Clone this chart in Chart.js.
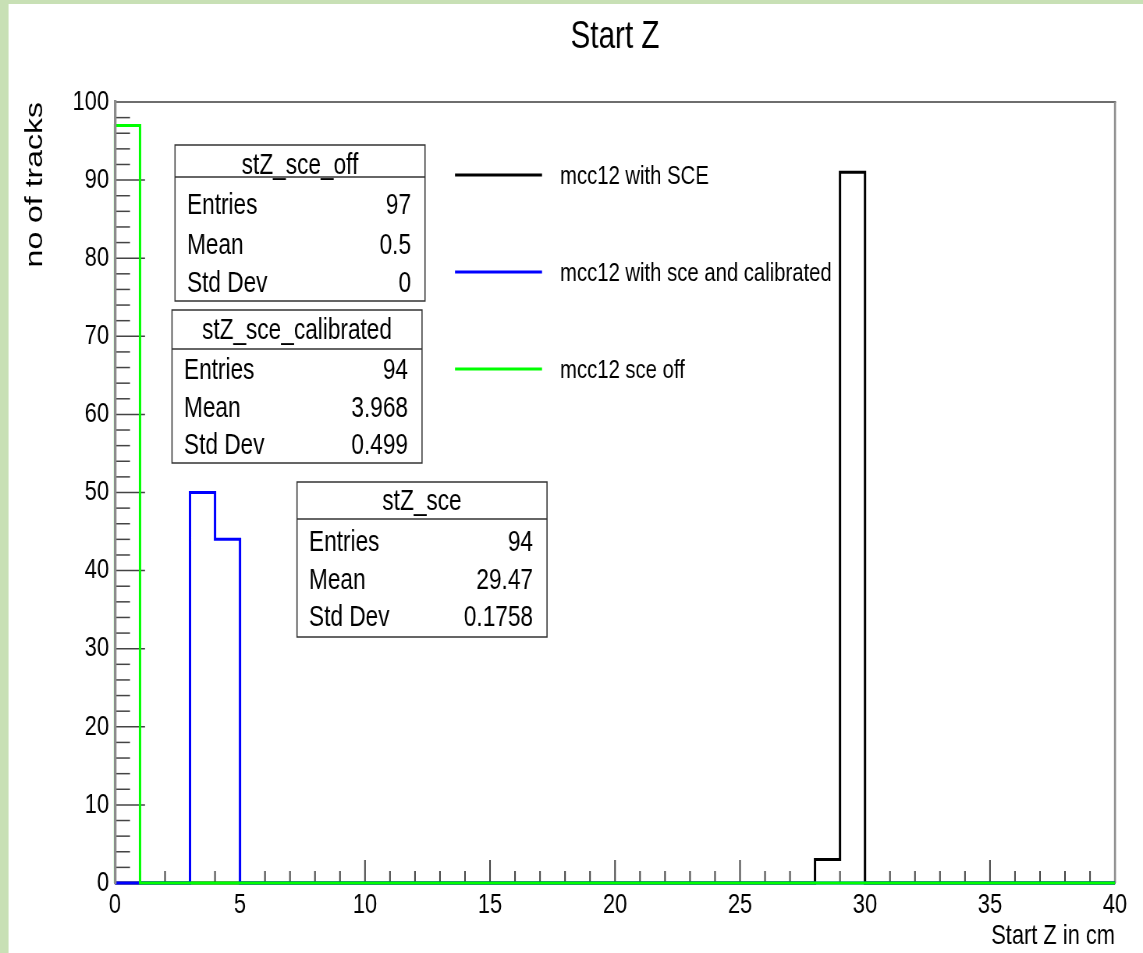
<!DOCTYPE html>
<html>
<head>
<meta charset="utf-8">
<script src="https://cdn.jsdelivr.net/npm/chart.js@4/dist/chart.umd.min.js"></script>
<style>
html, body { margin: 0; padding: 0; background: #ffffff; overflow: hidden; }
canvas { display: block; }
</style>
</head>
<body>
<canvas id="c" width="1465" height="953" style="width:1143px;height:953px"></canvas>
<script>
// ---------------- data ----------------
const chartTitle = 'Start Z';
const xAxisTitle = 'Start Z in cm';
const yAxisTitle = 'no of tracks';

const binLowEdges = [0,1,2,3,4,5,6,7,8,9,10,11,12,13,14,15,16,17,18,19,20,21,22,23,24,25,26,27,28,29,30,31,32,33,34,35,36,37,38,39];
const xRange = [0, 40];
const yRange = [0, 100];
const xMajorTicks = [0, 5, 10, 15, 20, 25, 30, 35, 40];
const yMajorTicks = [0, 10, 20, 30, 40, 50, 60, 70, 80, 90, 100];

const seriesNames = ['stZ_sce', 'stZ_sce_calibrated', 'stZ_sce_off'];
const legendLabels = ['mcc12 with SCE', 'mcc12 with sce and calibrated', 'mcc12 sce off'];

const countsSce           = [0,0,0,0,0,0,0,0,0,0, 0,0,0,0,0,0,0,0,0,0, 0,0,0,0,0,0,0,0,3,91, 0,0,0,0,0,0,0,0,0,0];
const countsSceCalibrated = [0,0,0,50,44,0,0,0,0,0, 0,0,0,0,0,0,0,0,0,0, 0,0,0,0,0,0,0,0,0,0, 0,0,0,0,0,0,0,0,0,0];
const countsSceOff        = [97,0,0,0,0,0,0,0,0,0, 0,0,0,0,0,0,0,0,0,0, 0,0,0,0,0,0,0,0,0,0, 0,0,0,0,0,0,0,0,0,0];

const statsLabels = ['Entries', 'Mean', 'Std Dev'];
const statsSce           = ['94', '29.47', '0.1758'];
const statsSceCalibrated = ['94', '3.968', '0.499'];
const statsSceOff        = ['97', '0.5', '0'];

// ---------------- helpers ----------------
const SX = 1143 / 1465;           // horizontal squeeze of the picture
const px = v => v / SX;           // screen x-distance -> canvas x-distance
const FONT = '"Liberation Sans", Helvetica, Arial, sans-serif';

function histPoints(counts) {
  const pts = [{ x: binLowEdges[0], y: 0 }];
  binLowEdges.forEach((e, i) => pts.push({ x: e, y: counts[i] }));
  pts.push({ x: xRange[1], y: 0 });
  return pts;
}

const rootPlugin = {
  id: 'rootStyle',
  beforeDraw(chart) {
    const ctx = chart.ctx;
    ctx.save();
    ctx.fillStyle = '#c8e0b5';
    ctx.fillRect(0, 0, chart.width, chart.height);
    ctx.fillStyle = '#ffffff';
    ctx.fillRect(px(8.5), 4, chart.width, chart.height);
    ctx.restore();
  },
  beforeDatasetsDraw(chart) {
    const { ctx, chartArea: a, scales: { x, y } } = chart;
    ctx.save();
    ctx.strokeStyle = '#444444';
    ctx.lineWidth = 2;
    x.ticks.forEach(t => {
      if (t.value <= x.min || t.value >= x.max) return;
      const p = x.getPixelForValue(t.value);
      const len = xMajorTicks.includes(t.value) ? 23 : 12;
      ctx.beginPath(); ctx.moveTo(p, a.bottom); ctx.lineTo(p, a.bottom - len); ctx.stroke();
    });
    ctx.lineWidth = 1.5;
    y.ticks.forEach(t => {
      if (t.value <= y.min || t.value >= y.max) return;
      const p = y.getPixelForValue(t.value);
      const len = yMajorTicks.includes(t.value) ? px(30) : px(15);
      ctx.beginPath(); ctx.moveTo(a.left, p); ctx.lineTo(a.left + len, p); ctx.stroke();
    });
    // frame top / right
    ctx.strokeStyle = '#6e6e6e';
    ctx.lineWidth = 2;
    ctx.beginPath(); ctx.moveTo(a.left, a.top); ctx.lineTo(a.right + px(1), a.top); ctx.stroke();
    ctx.strokeStyle = '#8c8c8c';
    ctx.lineWidth = px(2);
    ctx.beginPath(); ctx.moveTo(a.right, a.top); ctx.lineTo(a.right, a.bottom); ctx.stroke();
    ctx.restore();
  },
  afterDatasetsDraw(chart) {
    const ctx = chart.ctx;
    ctx.save();
    // legend (ROOT TLegend style, no border)
    const legendY = [175, 272, 369];
    chart.data.datasets.forEach((ds, i) => {
      ctx.strokeStyle = ds.borderColor;
      ctx.lineWidth = 3;
      ctx.beginPath(); ctx.moveTo(px(455), legendY[i]); ctx.lineTo(px(542), legendY[i]); ctx.stroke();
      ctx.fillStyle = '#000';
      ctx.font = '26px ' + FONT;
      ctx.textAlign = 'left';
      ctx.textBaseline = 'middle';
      ctx.fillText(ds.label, px(560), legendY[i] + 2);
    });
    // stats boxes
    const boxes = [
      { name: seriesNames[2], values: statsSceOff, x0: 175, x1: 425, y0: 145, ys: 177, y1: 301, ty: 166, rows: [206, 246, 284] },
      { name: seriesNames[1], values: statsSceCalibrated, x0: 172, x1: 422, y0: 310, ys: 349, y1: 463, ty: 331, rows: [371, 409, 446] },
      { name: seriesNames[0], values: statsSce, x0: 297, x1: 547, y0: 482, ys: 519, y1: 637, ty: 502, rows: [543, 581, 618] }
    ];
    boxes.forEach(b => {
      const L = px(b.x0), R = px(b.x1);
      ctx.fillStyle = '#ffffff';
      ctx.fillRect(L, b.y0, R - L, b.y1 - b.y0);
      ctx.strokeStyle = '#333333';
      ctx.lineWidth = 1.5;
      ctx.strokeRect(L, b.y0, R - L, b.y1 - b.y0);
      ctx.beginPath(); ctx.moveTo(L, b.ys); ctx.lineTo(R, b.ys); ctx.stroke();
      ctx.fillStyle = '#000';
      ctx.font = '29px ' + FONT;
      ctx.textBaseline = 'middle';
      ctx.textAlign = 'center';
      ctx.fillText(b.name, (L + R) / 2, b.ty);
      statsLabels.forEach((lab, i) => {
        ctx.textAlign = 'left';
        ctx.fillText(lab, L + px(12), b.rows[i]);
        ctx.textAlign = 'right';
        ctx.fillText(b.values[i], R - px(14), b.rows[i]);
      });
    });
    ctx.restore();
  }
};

const chart = new Chart(document.getElementById('c'), {
  type: 'line',
  data: {
    datasets: [
      { label: legendLabels[0], data: histPoints(countsSce), borderColor: '#000000', order: 2 },
      { label: legendLabels[1], data: histPoints(countsSceCalibrated), borderColor: '#0000ff', order: 1 },
      { label: legendLabels[2], data: histPoints(countsSceOff), borderColor: '#00ff00', order: 0 }
    ]
  },
  options: {
    responsive: false,
    devicePixelRatio: 1,
    animation: false,
    events: [],
    layout: { padding: { left: 0, right: 1465 - px(1115), top: 0, bottom: 0 } },
    elements: {
      line: { borderWidth: 3, stepped: true, tension: 0, fill: false },
      point: { radius: 0 }
    },
    datasets: { line: { clip: false } },
    plugins: {
      legend: { display: false },
      tooltip: { enabled: false },
      title: {
        display: true,
        text: chartTitle,
        fullSize: false,
        color: '#000',
        font: { family: FONT, size: 38, weight: 'normal' },
        padding: { top: 15, bottom: 41.4 }
      }
    },
    scales: {
      x: {
        type: 'linear',
        min: xRange[0], max: xRange[1],
        grid: { display: false, drawTicks: false },
        border: { display: true, color: '#8c8c8c', width: 2 },
        ticks: {
          stepSize: 1, autoSkip: false, maxRotation: 0, padding: 5,
          color: '#000', font: { family: FONT, size: 28 },
          callback: v => xMajorTicks.includes(v) ? String(v) : ''
        },
        title: {
          display: true, text: xAxisTitle, align: 'end', color: '#000',
          font: { family: FONT, size: 28 }, padding: { top: 0, bottom: 0 }
        },
        afterFit: s => { s.height = 70; }
      },
      y: {
        type: 'linear',
        min: yRange[0], max: yRange[1],
        grid: { display: false, drawTicks: false },
        border: { display: true, color: '#8c8c8c', width: px(2.6), z: 1 },
        ticks: {
          stepSize: 2, autoSkip: false, padding: px(6),
          color: '#000', font: { family: FONT, size: 28 },
          callback: v => yMajorTicks.includes(v) ? String(v) : ''
        },
        title: {
          display: true, text: yAxisTitle, align: 'end', color: '#000',
          font: { family: FONT, size: 32 }, padding: { top: 26, bottom: 0 }
        },
        afterFit: s => { s.width = px(115); }
      }
    }
  },
  plugins: [rootPlugin]
});
</script>
</body>
</html>
